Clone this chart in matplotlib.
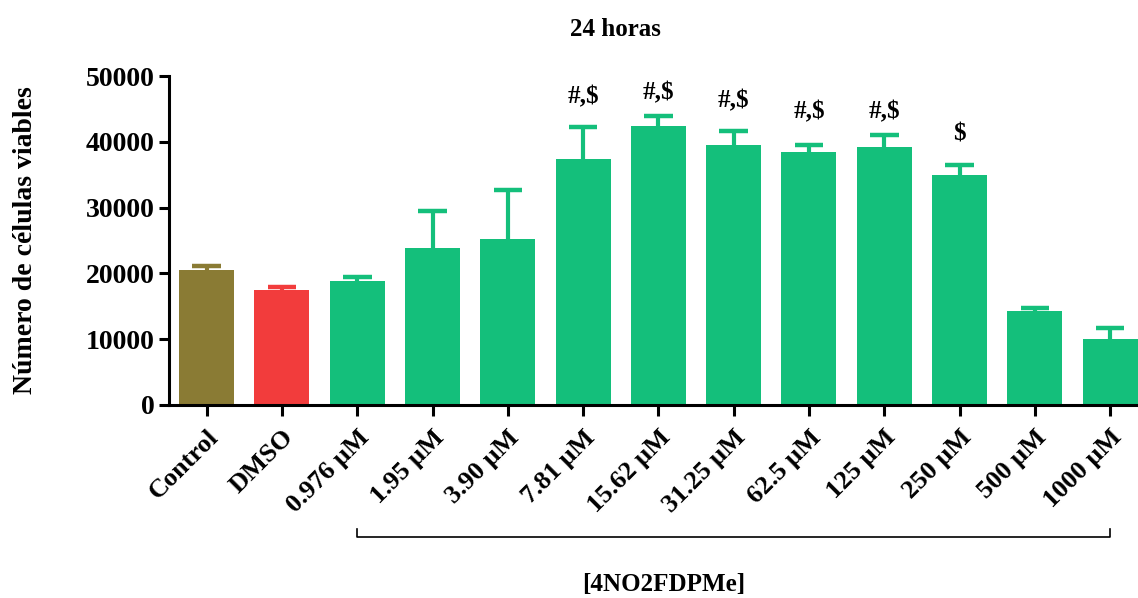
import numpy as np
import matplotlib
matplotlib.use('Agg')
import matplotlib.pyplot as plt
import matplotlib.transforms as mtransforms

plt.rcParams['font.family'] = ['Liberation Serif', 'DejaVu Serif']
plt.rcParams['font.weight'] = 'bold'

labels = ['Control', 'DMSO', '0.976 µM', '1.95 µM', '3.90 µM', '7.81 µM', '15.62 µM',
          '31.25 µM', '62.5 µM', '125 µM', '250 µM', '500 µM', '1000 µM']
means = [20570, 17440, 18890, 23870, 25260, 37370, 42350, 39510, 38410, 39170, 34990, 14310, 10020]
upper = [21200, 17960, 19410, 29550, 32730, 42290, 43920, 41710, 39510, 41020, 36500, 14770, 11760]
sig_idx = [5, 6, 7, 8, 9, 10]
sig_txt = ['#,$', '#,$', '#,$', '#,$', '#,$', '$']
sig_y = [46800, 47400, 46200, 44530, 44530, 41190]

colors = ['#8a7b34', '#f23c3c'] + ['#14bf7b'] * 11
x = np.arange(len(labels))

fig = plt.figure(figsize=(11.38, 5.98), dpi=100)
ax = fig.add_axes([169 / 1138, 1 - 405 / 598, 1 - 169 / 1138, (405 - 76) / 598])

ax.bar(x, means, width=0.73, color=colors, zorder=2)
# upper-only error bars (SEM)
ax.vlines(x, means, upper, colors=colors, lw=3, zorder=1)
ax.hlines(upper, x - 0.19, x + 0.19, colors=colors, lw=3.2, zorder=1)

for i, t, yv in zip(sig_idx, sig_txt, sig_y):
    ax.text(i, yv, t, ha='center', va='center', fontsize=18, fontweight='bold')

ax.set_ylim(0, 50000)
ax.set_xlim(-0.5, 12.37)
ax.set_yticks([0, 10000, 20000, 30000, 40000, 50000])
ax.set_xticks(x)
ax.set_xticklabels(labels, rotation=45, ha='right', rotation_mode='anchor', fontsize=19,
                   fontweight='bold')
ax.tick_params(axis='y', labelsize=20, width=2.2, length=7.5, pad=3)
ax.tick_params(axis='x', width=2.2, length=8, pad=7)
for lab in ax.get_yticklabels():
    lab.set_fontweight('bold')
ax.spines['top'].set_visible(False)
ax.spines['right'].set_visible(False)
ax.spines['left'].set_linewidth(2.2)
ax.spines['bottom'].set_linewidth(2.2)
ax.set_ylabel('Número de células viables', fontsize=20, fontweight='bold')
ax.yaxis.set_label_coords(-0.135, 0.5)

# bracket under the concentrations
trans = mtransforms.blended_transform_factory(ax.transData, ax.transAxes)
ax.plot([2, 2, 12, 12], [-0.377, -0.401, -0.401, -0.377], color='black', lw=1.2,
        transform=trans, clip_on=False)

fig.text(664 / 1138, 1 - 585 / 598, '[4NO2FDPMe]', ha='center', va='center',
         fontsize=18, fontweight='bold')
fig.text(615 / 1138, 1 - 30 / 598, '24 horas', ha='center', va='center',
         fontsize=18, fontweight='bold')

fig.savefig('out.png', dpi=100)
